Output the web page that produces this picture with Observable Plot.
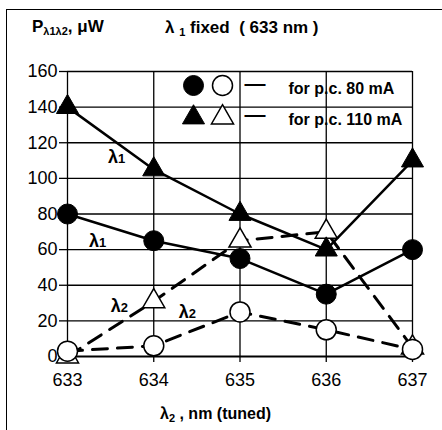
<!DOCTYPE html>
<html><head><meta charset="utf-8">
<script src="https://cdn.jsdelivr.net/npm/d3@7"></script>
<script src="https://cdn.jsdelivr.net/npm/@observablehq/plot@0.6"></script>
<style>
body{margin:0;background:#fff;font-family:"Liberation Sans",Arial,sans-serif;}
#wrap{position:relative;width:442px;height:430px;overflow:hidden;background:#fff}
#chart{position:absolute;left:0;top:0}
#frame{position:absolute;left:6px;top:9px;width:500px;height:500px;border-left:1.6px solid #000;border-top:1.6px solid #000}
.t{position:absolute;font-weight:bold;color:#000;white-space:pre;line-height:1}
.sub{font-size:11px;position:relative;top:3px}
</style></head><body>
<div id="wrap">
<div id="chart"></div>
<div id="frame"></div>
<div class="t" style="left:32px;top:17.5px;font-size:17px">P<span class="sub">λ1λ2</span>, μW</div>
<div class="t" style="left:165px;top:18.5px;font-size:17px">λ <span class="sub">1</span> fixed&nbsp; ( 633 nm )</div>
<div class="t" style="left:160px;top:405.5px;font-size:16px">λ<span class="sub">2</span> , nm (tuned)</div>
</div>
<script>
const xs = [633, 634, 635, 636, 637];
const yTicks = [0, 20, 40, 60, 80, 100, 120, 140, 160];
const pc80L1 = [80, 65, 55, 35, 60];
const pc110L1 = [140, 105, 80, 60, 110];
const pc80L2 = [3, 6, 25, 15, 4];
const pc110L2 = [0, 31, 65, 70, 5];
const curveLabels = ["λ1", "λ1", "λ2", "λ2"];
const curveLabelX = [633.57, 633.35, 633.6, 634.39];
const curveLabelY = [112, 64.6, 28, 24.7];
const legendText = ["for p.c. 80 mA", "for p.c. 110 mA"];

const rows = vals => xs.map((x, i) => ({x, y: vals[i]}));
const labelRows = curveLabels.map((t, i) => ({t, x: curveLabelX[i], y: curveLabelY[i]}));

const solid = {x: "x", y: "y", stroke: "black", strokeWidth: 2.5};
const dashed = {x: "x", y: "y", stroke: "black", strokeWidth: 3, strokeDasharray: "15,10"};
const filled = {fill: "black", stroke: "black", strokeWidth: 1};
const open = {fill: "white", stroke: "black", strokeWidth: 1.5};
const legText = {frameAnchor: "top-left", lineAnchor: "middle", text: d => d};

const chart = Plot.plot({
  width: 442, height: 430,
  marginLeft: 67, marginRight: 30, marginTop: 71, marginBottom: 74,
  style: {fontFamily: "'Liberation Sans', Arial, sans-serif", background: "transparent", color: "black", overflow: "visible"},
  x: {domain: [633, 637], label: null},
  y: {domain: [0, 160], label: null},
  marks: [
    Plot.gridX(xs, {stroke: "black", strokeOpacity: 1, strokeWidth: 1.3}),
    Plot.gridY(yTicks.filter(d => d > 0), {stroke: "black", strokeOpacity: 1, strokeWidth: 1.3}),
    Plot.ruleY([0], {stroke: "black", strokeWidth: 1.8}),
    Plot.axisY(yTicks, {tickSize: 8, tickPadding: 2, fontSize: 18, strokeWidth: 1.3, label: null}),
    Plot.axisX(xs, {tickSize: 6, tickPadding: 11, fontSize: 18, strokeWidth: 1.3, label: null, tickFormat: d => String(d)}),
    Plot.line(rows(pc80L2), dashed),
    Plot.line(rows(pc110L2), dashed),
    Plot.line(rows(pc80L1), solid),
    Plot.line(rows(pc110L1), solid),
    Plot.dot(rows(pc110L2), {x: "x", y: "y", symbol: "triangle", r: 8.2, ...open}),
    Plot.dot(rows(pc110L1), {x: "x", y: "y", symbol: "triangle", r: 8.2, ...filled}),
    Plot.dot(rows(pc80L2), {x: "x", y: "y", r: 10, ...open}),
    Plot.dot(rows(pc80L1), {x: "x", y: "y", r: 10, ...filled}),
    Plot.text(labelRows, {x: "x", y: "y", text: "t", fontSize: 18, fontWeight: "bold", className: "curvelab"}),
    // legend
    Plot.dot([0], {frameAnchor: "top-left", dx: 126, dy: 14, r: 10, ...filled}),
    Plot.dot([0], {frameAnchor: "top-left", dx: 155, dy: 14, r: 10, ...open}),
    Plot.dot([0], {frameAnchor: "top-left", dx: 126, dy: 46, r: 8.2, symbol: "triangle", ...filled}),
    Plot.dot([0], {frameAnchor: "top-left", dx: 155, dy: 46, r: 8.2, symbol: "triangle", ...open}),
    Plot.text(["—"], {...legText, dx: 187.5, dy: 12, textAnchor: "middle", fontSize: 21, fontWeight: "bold"}),
    Plot.text(["—"], {...legText, dx: 187.5, dy: 43, textAnchor: "middle", fontSize: 21, fontWeight: "bold"}),
    Plot.text([legendText[0]], {...legText, dx: 221, dy: 17, textAnchor: "start", fontSize: 16, fontWeight: "bold"}),
    Plot.text([legendText[1]], {...legText, dx: 221, dy: 48, textAnchor: "start", fontSize: 16, fontWeight: "bold"})
  ]
});
document.getElementById("chart").appendChild(chart);
d3.select(chart).selectAll(".curvelab text").each(function() {
  const s = this.textContent;
  const el = d3.select(this);
  el.text(null);
  el.append("tspan").text(s[0]);
  el.append("tspan").attr("font-size", 13).text(s.slice(1));
});
</script>
</body></html>
